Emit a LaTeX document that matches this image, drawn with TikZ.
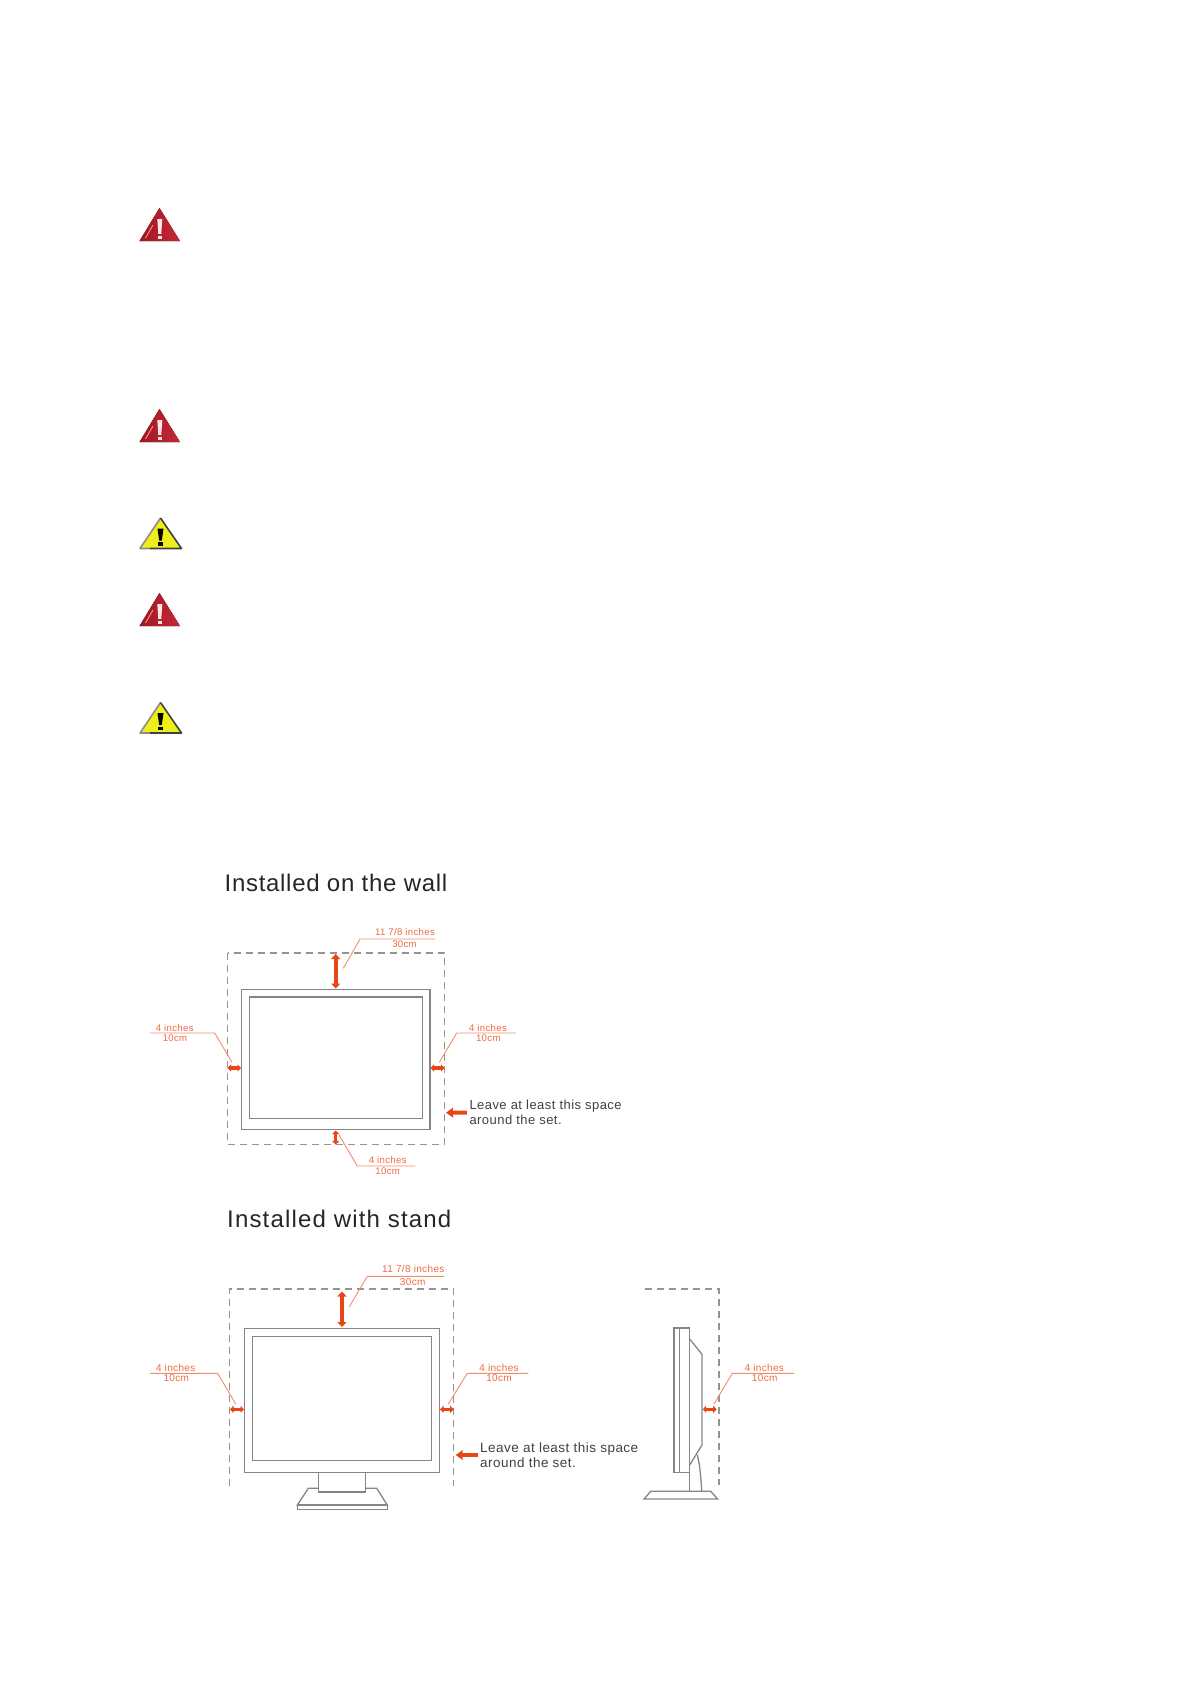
\documentclass[tikz,border=0pt]{standalone}
\usepackage{fontspec}
\setmainfont{Liberation Sans}
\newfontfamily\spacedfont[LetterSpace=3.5]{Liberation Sans}
\usetikzlibrary{arrows.meta}

\definecolor{gaporange}{RGB}{232,70,20}
\definecolor{labelorange}{RGB}{238,105,65}
\definecolor{leaderorange}{RGB}{242,140,110}
\definecolor{signred}{RGB}{196,30,42}
\definecolor{signyellow}{RGB}{238,238,25}

\tikzset{
    outline/.style={draw=black!48, line width=1.3pt},
    spaceline/.style={draw=black!42, line width=1.2pt, dash pattern=on 7pt off 5pt},
    leader/.style={draw=leaderorange, line width=0.9pt},
    gap/.style={draw=gaporange, line width=4pt, <->, >={Triangle[length=5pt, width=9pt]}},
    smallgap/.style={draw=gaporange, line width=3.2pt, <->, >={Triangle[length=3.5pt, width=7pt]}},
    pointer/.style={draw=gaporange, line width=4pt, <-, >={Triangle[length=7pt, width=9.5pt]}},
    sizelabel/.style={text=labelorange, font=\spacedfont\fontsize{9.6}{10}\selectfont, inner sep=0pt},
    standlabel/.style={text=labelorange, font=\spacedfont\fontsize{10}{10}\selectfont, inner sep=0pt},
    heading/.style={text=black!85, font=\spacedfont\fontsize{24}{26}\selectfont, anchor=west, inner sep=0pt},
    spacenote/.style={text=black!75, font=\spacedfont\fontsize{13}{14.5}\selectfont, anchor=west, inner sep=0pt, align=left},
    standnote/.style={spacenote, font=\spacedfont\fontsize{13.5}{15}\selectfont},
}

\begin{document}
\begin{tikzpicture}[x=1pt, y=-1pt]
    \useasboundingbox (0, 0) rectangle (1191, 1684);

    % warning signs
    \foreach \p/\base in {1/241, 2/442, 3/626} {
        \fill[left color=signred!80!black, right color=signred!95!white] (159.5, \base-33) -- (180, \base) -- (139.5, \base) -- cycle;
        \draw[red!45!white, line width=0.9pt] (145.5, \base-3) -- (153, \base-16);
        \fill[red!10] (157.3, \base-22) -- (162.3, \base-22) -- (161.3, \base-7) -- (158.3, \base-7) -- cycle;
        \fill[red!10] (157.8, \base-5.5) rectangle (161.8, \base-2);
    };
    \foreach \p/\base in {1/548.5, 2/733} {
        \fill[signyellow] (160.5, \base-30.5) -- (181.5, \base) -- (140, \base) -- cycle;
        \draw[black!45, line width=1.6pt, line join=round] (150, \base) -- (140, \base) -- (160.5, \base-30.5);
        \draw[black!75, line width=1.6pt, line join=round] (160.5, \base-30.5) -- (181.5, \base) -- (150, \base);
        \fill[black] (157.5, \base-20) -- (163.5, \base-20) -- (161.8, \base-8) -- (159.2, \base-8) -- cycle;
        \fill[black] (158.3, \base-6.5) rectangle (162.7, \base-3);
    };

    % installed on the wall
    \node[heading] (walltitle) at (224.5, 883) {\addfontfeature{LetterSpace=2.9}Installed on the wall};
    \draw[spaceline] (227.5, 953) rectangle (444.5, 1144.5);
    \draw[outline] (241.5, 989.5) rectangle (430, 1129.5);
    \draw[outline] (249.5, 997) rectangle (422.5, 1118.5);

    \coordinate (walltopa) at (335.7, 954);
    \coordinate (walltopb) at (335.7, 988.5);
    \coordinate (wallbota) at (335.7, 1130.5);
    \coordinate (wallbotb) at (335.7, 1144.5);
    \coordinate (walllefta) at (227.5, 1068);
    \coordinate (wallleftb) at (241, 1068);
    \coordinate (wallrighta) at (430.5, 1068);
    \coordinate (wallrightb) at (444.5, 1068);
    \draw[gap] (walltopa) -- (walltopb);
    \draw[smallgap] (wallbota) -- (wallbotb);
    \draw[smallgap] (walllefta) -- (wallleftb);
    \draw[smallgap] (wallrighta) -- (wallrightb);

    \node[sizelabel] (walltopin) at (405, 932) {11 7/8 inches};
    \node[sizelabel] (walltopcm) at (404.5, 944) {30cm};
    \node[sizelabel] (wallleftin) at (174.7, 1028) {4 inches};
    \node[sizelabel] (wallleftcm) at (175, 1038.5) {10cm};
    \node[sizelabel] (wallrightin) at (488, 1028) {4 inches};
    \node[sizelabel] (wallrightcm) at (488.3, 1038.5) {10cm};
    \node[sizelabel] (wallbotin) at (387.7, 1160) {4 inches};
    \node[sizelabel] (wallbotcm) at (387.7, 1171) {10cm};

    \draw[leader] (343.3, 968.3) -- (360, 939) -- (435, 939);
    \draw[leader] (150, 1033) -- (214.7, 1033) -- (232, 1062.3);
    \draw[leader] (439.3, 1062.3) -- (456.7, 1033) -- (516, 1033);
    \draw[leader] (339, 1135) -- (357.3, 1166) -- (415, 1166);

    \node[spacenote] (wallnote) at (469.3, 1112.5) {Leave at least this space\\around the set.};
    \coordinate (wallnotetip) at (446, 1112.7);
    \draw[pointer] (wallnotetip) -- ([xshift=-2.5pt]wallnote.west);

    % installed with stand, front
    \node[heading] (standtitle) at (227, 1219) {\addfontfeature{LetterSpace=4.9}Installed with stand};
    \draw[spaceline] (229.7, 1486) -- (229.7, 1289) -- (453.7, 1289) -- (453.7, 1486);
    \draw[outline] (244.7, 1328.3) rectangle (439.3, 1472.3);
    \draw[outline] (252.7, 1336.3) rectangle (431.7, 1460.3);
    \draw[outline] (318.3, 1472.3) rectangle (365.7, 1492);
    \draw[outline] (318.3, 1488.3) -- (308.3, 1488.3) -- (297.3, 1505) -- (387.3, 1505) -- (376.7, 1488.3) -- (365.7, 1488.3);
    \draw[outline] (297.3, 1505) rectangle (387.3, 1509.3);

    \coordinate (standtopa) at (342, 1291.5);
    \coordinate (standtopb) at (342, 1327);
    \coordinate (standlefta) at (230, 1409.3);
    \coordinate (standleftb) at (244, 1409.3);
    \coordinate (standrighta) at (440, 1409.3);
    \coordinate (standrightb) at (453.7, 1409.3);
    \draw[gap] (standtopa) -- (standtopb);
    \draw[smallgap] (standlefta) -- (standleftb);
    \draw[smallgap] (standrighta) -- (standrightb);

    \node[standlabel] (standtopin) at (413.3, 1269.3) {11 7/8 inches};
    \node[standlabel] (standtopcm) at (412.7, 1281.7) {30cm};
    \node[standlabel] (standleftin) at (175.7, 1367.7) {4 inches};
    \node[standlabel] (standleftcm) at (176.3, 1378.3) {10cm};
    \node[standlabel] (standrightin) at (499, 1367.7) {4 inches};
    \node[standlabel] (standrightcm) at (499, 1378.3) {10cm};

    \draw[leader] (349.3, 1306.7) -- (367.3, 1276.3) -- (444, 1276.3);
    \draw[leader] (150, 1373.3) -- (217.7, 1373.3) -- (235.7, 1404);
    \draw[leader] (448.3, 1404) -- (467.3, 1373.3) -- (528.3, 1373.3);

    \node[standnote] (standnote) at (480, 1455) {Leave at least this space\\around the set.};
    \coordinate (standnotetip) at (455.7, 1455);
    \draw[pointer] (standnotetip) -- ([xshift=-2.5pt]standnote.west);

    % installed with stand, side
    \draw[spaceline] (645, 1289) -- (719, 1289) -- (719, 1485);
    \draw[outline] (674, 1328) rectangle (689.7, 1472.3);
    \draw[outline] (679.7, 1328) -- (679.7, 1472.3);
    \draw[outline] (689.7, 1339) -- (702, 1354.3) -- (702, 1445) -- (689.7, 1465);
    \draw[outline] (689.7, 1472.3) -- (689.7, 1491);
    \draw[outline] (697.3, 1455) .. controls (700, 1465) and (701, 1478) .. (701.7, 1491);
    \draw[outline] (644, 1499) -- (650.7, 1491.3) -- (710.7, 1491.3) -- (717.7, 1499) -- cycle;

    \coordinate (sidea) at (702.7, 1409.3);
    \coordinate (sideb) at (716.7, 1409.3);
    \draw[smallgap] (sidea) -- (sideb);

    \node[standlabel] (sidein) at (764.3, 1367.7) {4 inches};
    \node[standlabel] (sidecm) at (764.7, 1378.3) {10cm};
    \draw[leader] (714, 1404) -- (732.3, 1373.3) -- (794, 1373.3);
\end{tikzpicture}
\end{document}
